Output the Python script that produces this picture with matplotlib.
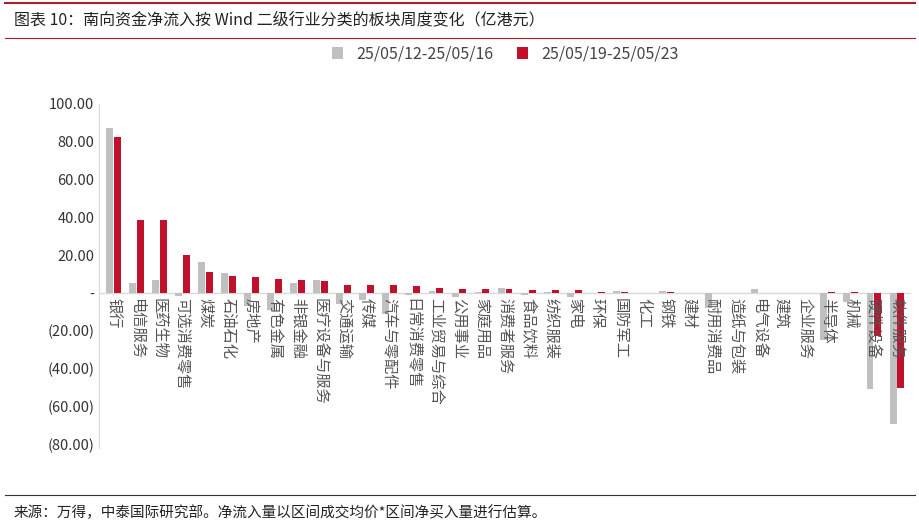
import matplotlib
matplotlib.use("Agg")
import matplotlib.pyplot as plt
import matplotlib.transforms as mtrans
import numpy as np

plt.rcParams['font.family'] = ['Noto Sans CJK SC', 'DejaVu Sans']

categories = ["银行","电信服务","医药生物","可选消费零售","煤炭","石油石化","房地产","有色金属","非银金融",
 "医疗设备与服务","交通运输","传媒","汽车与零配件","日常消费零售","工业贸易与综合","公用事业","家庭用品",
 "消费者服务","食品饮料","纺织服装","家电","环保","国防军工","化工","钢铁","建材","耐用消费品","造纸与包装",
 "电气设备","建筑","企业服务","半导体","机械","硬件设备","软件服务"]
s1_name = "25/05/12-25/05/16"
s2_name = "25/05/19-25/05/23"
s1 = [87,5,7,-1.5,16.5,10.5,-7,-9,5.5,7,-6,-3.5,-11,-1,1,-2,0.5,2.5,-1,0.3,-2,0.2,1,0.2,0.8,-0.3,-8,0,2,0.1,0.1,-25,-5,-51,-69]
s2 = [82.5,38.5,38.5,20,11,9,8.5,7.5,7,6.5,4,4,4,3.5,2.5,2,2,2,1.5,1.5,1.5,0.5,0.5,0.2,0.3,0.1,0,0.1,0.2,0.1,0.2,0.3,0.5,-23,-50]
yticks = [100,80,60,40,20,0,-20,-40,-60,-80]

def fmt(v):
    if v == 0: return "-"
    return f"{v:.2f}" if v > 0 else f"({-v:.2f})"

fig = plt.figure(figsize=(9.2,5.26), dpi=100)
fig.text(0.015, 0.962, "图表 10：南向资金净流入按 Wind 二级行业分类的板块周度变化（亿港元）", fontsize=11.5, va='center', color='#222')
fig.add_artist(plt.Line2D([0.005,0.995],[0.995,0.995], color='#b01c2e', lw=1.5))
fig.add_artist(plt.Line2D([0.005,0.995],[0.928,0.928], color='#b01c2e', lw=0.8))
fig.add_artist(plt.Line2D([0.005,0.995],[0.058,0.058], color='#333', lw=0.8))
fig.text(0.015, 0.025, "来源：万得，中泰国际研究部。净流入量以区间成交均价*区间净买入量进行估算。", fontsize=10.5, va='center', color='#222')

ax = fig.add_axes([0.108, 0.148, 0.882, 0.655])
x = np.arange(len(categories))
w = 0.3
ax.bar(x - w/2 - 0.02, s1, w, color='#c0c0c0', label=s1_name, zorder=1)
ax.bar(x + w/2 + 0.02, s2, w, color='#c0102c', label=s2_name, zorder=1)
ax.set_xlim(-0.6, len(categories)-0.4)
ax.set_ylim(-82, 100)
ax.set_yticks(yticks)
ax.set_yticklabels([fmt(v) for v in yticks], fontsize=10.5, color='#333')
ax.set_xticks([])
ax.tick_params(axis='y', length=0)
ax.axhline(0, color='#d9d9d9', lw=1, zorder=0)
off = mtrans.offset_copy(ax.transData, fig=fig, x=0, y=-4, units='points')
for xi, c in zip(x, categories):
    ax.text(xi, 0, c, transform=off, rotation=-90, rotation_mode='anchor',
            ha='left', va='center', fontsize=11, color='#555', zorder=3)
for s in ['top','right','bottom']:
    ax.spines[s].set_visible(False)
ax.spines['left'].set_color('#d9d9d9')
ax.legend(loc='upper center', bbox_to_anchor=(0.5, 1.21), ncol=2, frameon=False, fontsize=11.5,
          handlelength=0.7, handleheight=0.7, columnspacing=1.5, labelcolor='#444')
fig.savefig("out.png", dpi=100)
